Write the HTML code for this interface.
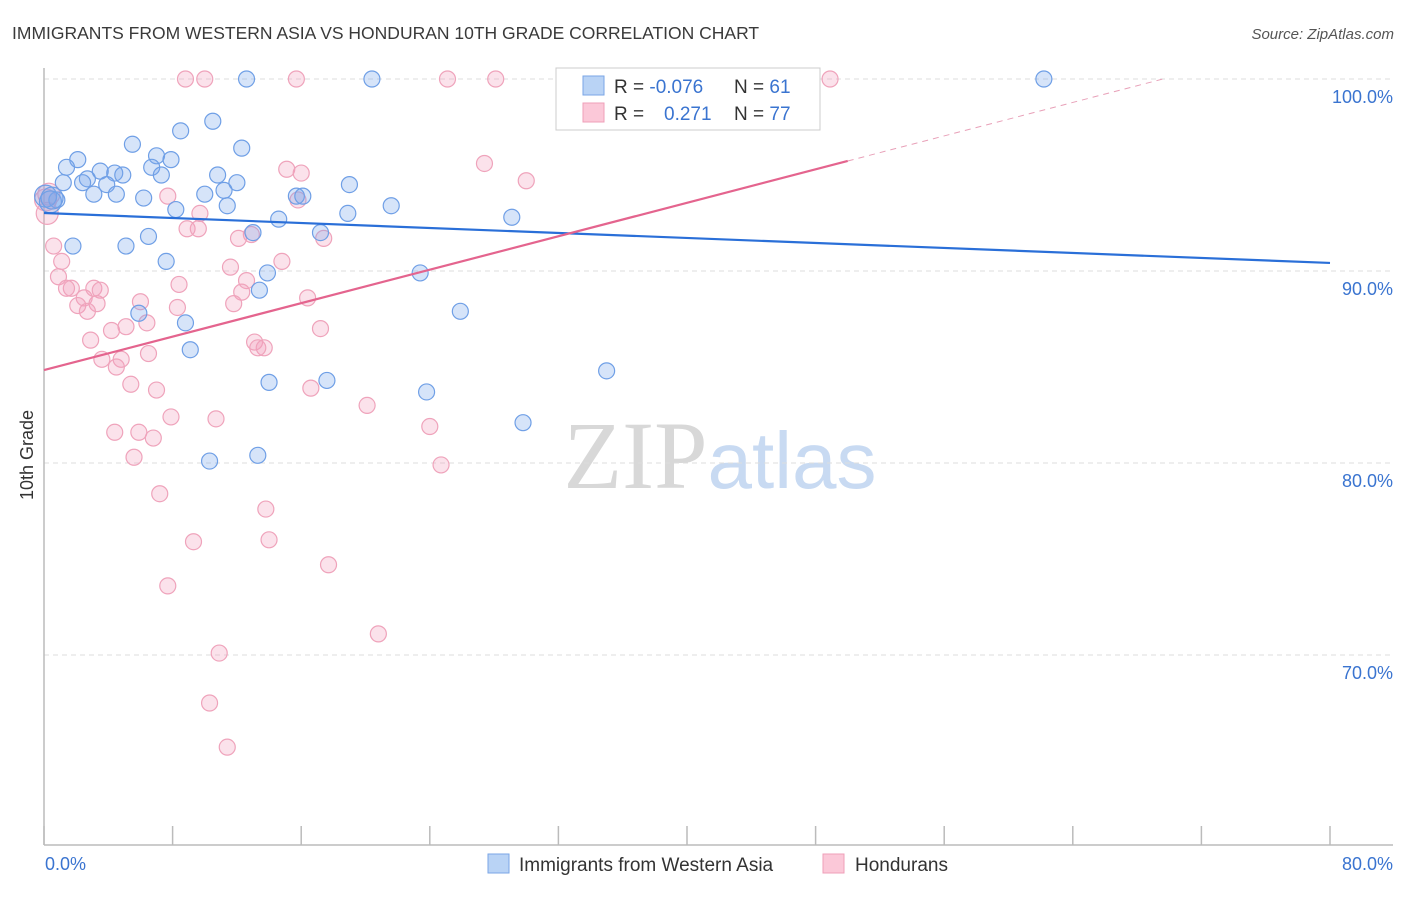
<!DOCTYPE html>
<html><head><meta charset="utf-8"><style>
body{margin:0;background:#fff;font-family:"Liberation Sans",sans-serif;}
svg text{font-family:"Liberation Sans",sans-serif;}
</style></head><body>
<svg id="chart" width="1406" height="892" viewBox="0 0 1406 892" xmlns="http://www.w3.org/2000/svg">
<text x="12" y="39" font-size="17.5" fill="#3a3a3a">IMMIGRANTS FROM WESTERN ASIA VS HONDURAN 10TH GRADE CORRELATION CHART</text>
<text x="1394" y="39" font-size="15" fill="#555" font-style="italic" text-anchor="end">Source: ZipAtlas.com</text>
<text x="720" y="488" font-size="96" text-anchor="middle"><tspan fill="#d8d8d8" font-family="Liberation Serif">ZIP</tspan><tspan fill="#c8daf2" font-size="80">atlas</tspan></text>
<g id="grid"></g>
<g id="axes"></g>
<g id="pts"></g>
<g id="lines"></g>
<text transform="translate(33,455) rotate(-90)" font-size="18" fill="#333" text-anchor="middle">10th Grade</text>
<g>
<rect x="556" y="68" width="264" height="62" fill="#fff" stroke="#ccc"/>
<rect x="583" y="76" width="21" height="19" fill="#b9d3f5" stroke="#7aa6e6"/>
<rect x="583" y="103" width="21" height="19" fill="#fbc8d8" stroke="#ef9fb8"/>
<text x="614" y="93" font-size="19" fill="#333">R = <tspan fill="#3a74d0">-0.076</tspan></text>
<text x="734" y="93" font-size="19" fill="#333">N = <tspan fill="#3a74d0"> 61</tspan></text>
<text x="614" y="120" font-size="19" fill="#333">R = <tspan fill="#3a74d0" x="664">0.271</tspan></text>
<text x="734" y="120" font-size="19" fill="#333">N = <tspan fill="#3a74d0">77</tspan></text>
</g>
<g>
<rect x="488" y="854" width="21" height="19" fill="#b9d3f5" stroke="#7aa6e6"/>
<text x="519" y="871" font-size="19" fill="#333">Immigrants from Western Asia</text>
<rect x="823" y="854" width="21" height="19" fill="#fbc8d8" stroke="#ef9fb8"/>
<text x="855" y="871" font-size="19" fill="#333">Hondurans</text>
</g>
</svg>
<script>
const yTicks=[100,90,80,70];
const yTickLabels=["100.0%","90.0%","80.0%","70.0%"];
const xTicks=[0,8,16,24,32,40,48,56,64,72,80];
const xEndLabels=["0.0%","80.0%"];
const blueX=[12.6,20.4,62.2,10.5,8.5,5.5,12.3,7.0,2.1,7.9,1.4,6.7,3.5,4.4,4.9,7.3,10.8,2.7,1.2,2.4,3.9,12.0,19.0,11.2,3.1,4.5,6.2,10.0,15.7,16.1,0.8,0.1,0.4,11.4,21.6,8.2,18.9,29.1,14.6,13.0,17.2,6.5,5.1,1.8,7.6,13.9,23.4,13.4,5.9,25.9,8.8,9.1,35.0,14.0,17.6,23.8,29.8,10.3,13.3,0.5];
const blueY=[100,100,100,97.8,97.3,96.6,96.4,96.0,95.8,95.8,95.4,95.4,95.2,95.1,95.0,95.0,95.0,94.8,94.6,94.6,94.5,94.6,94.5,94.2,94.0,94.0,93.8,94.0,93.9,93.9,93.7,93.9,93.6,93.4,93.4,93.2,93.0,92.8,92.7,92.0,92.0,91.8,91.3,91.3,90.5,89.9,89.9,89.0,87.8,87.9,87.3,85.9,84.8,84.2,84.3,83.7,82.1,80.1,80.4,93.8];
const pinkX=[8.8,10.0,15.7,25.1,28.1,42.3,48.9,27.4,30.0,15.1,16.0,7.7,15.8,9.7,8.9,9.6,12.1,12.9,17.4,0.6,1.1,11.6,14.8,0.9,12.6,8.4,3.1,1.7,1.4,3.5,2.5,12.3,16.4,6.0,3.3,2.1,2.7,11.8,8.3,6.4,5.1,4.2,17.2,2.9,13.1,13.7,13.3,6.5,4.8,3.6,4.5,5.4,7.0,16.6,20.1,7.9,10.7,24.0,4.4,5.9,6.8,5.6,24.7,7.2,13.8,14.0,9.3,17.7,7.7,20.8,10.9,10.3,11.4,0.1,0.2,0.3];
const pinkY=[100,100,100,100,100,100,100,95.6,94.7,95.3,95.1,93.9,93.7,93.0,92.2,92.2,91.7,91.9,91.7,91.3,90.5,90.2,90.5,89.7,89.5,89.3,89.1,89.1,89.1,89.0,88.6,88.9,88.6,88.4,88.3,88.2,87.9,88.3,88.1,87.3,87.1,86.9,87.0,86.4,86.3,86.0,86.0,85.7,85.4,85.4,85.0,84.1,83.8,83.9,83.0,82.4,82.3,81.9,81.6,81.6,81.3,80.3,79.9,78.4,77.6,76.0,75.9,74.7,73.6,71.1,70.1,67.5,65.2,93.7,93.0,94.0];
const blueTrend=[93.02,90.42];
const pinkTrend=[84.84,0.2178];
const X0=44,X1=1330,YT=79;
function sx(v){return X0+(v/80)*(X1-X0);}
function sy(v){return YT+(100-v)*19.2;}
const NS="http://www.w3.org/2000/svg";
function mk(tag,attrs,parent){const e=document.createElementNS(NS,tag);for(const k in attrs)e.setAttribute(k,attrs[k]);parent.appendChild(e);return e;}
const grid=document.getElementById('grid'),axes=document.getElementById('axes'),pts=document.getElementById('pts'),lines=document.getElementById('lines');
yTicks.forEach((t,i)=>{
 const l=mk('line',{x1:X0,x2:1393,y1:sy(t),y2:sy(t),stroke:'#ddd','stroke-dasharray':'5,4'},grid);
 
 
 const tx=mk('text',{x:1393,y:sy(t)+24,'font-size':18,fill:'#3a74d0','text-anchor':'end'},axes);
 tx.textContent=yTickLabels[i];
 
 
});
let a=mk('line',{x1:X0,x2:X0,y1:68,y2:845,stroke:'#bbb','stroke-width':1.5},axes);


a=mk('line',{x1:X0,x2:1393,y1:845,y2:845,stroke:'#bbb','stroke-width':1.5},axes);


xTicks.forEach(t=>{
 const l=mk('line',{x1:sx(t),x2:sx(t),y1:826,y2:845,stroke:'#bbb','stroke-width':1.5},axes);
 
 
});
let t0=mk('text',{x:45,y:870,'font-size':18,fill:'#3a74d0'},axes);t0.textContent=xEndLabels[0];


let t1=mk('text',{x:1393,y:870,'font-size':18,fill:'#3a74d0','text-anchor':'end'},axes);t1.textContent=xEndLabels[1];


pinkX.forEach((x,i)=>{
 const c=mk('circle',{cx:sx(x),cy:sy(pinkY[i]),r:x<0.5?11:8,fill:'rgba(243,160,190,0.3)',stroke:'#efa3bb','stroke-width':1.2},pts);
 
 
});
blueX.forEach((x,i)=>{
 const c=mk('circle',{cx:sx(x),cy:sy(blueY[i]),r:x<0.6&&i>=30?11:8,fill:'rgba(120,165,235,0.3)',stroke:'#6f9fe6','stroke-width':1.2},pts);
 
 
});
let bl=mk('line',{x1:sx(0),y1:sy(blueTrend[0]),x2:sx(80),y2:sy(blueTrend[1]),stroke:'#2a6fd8','stroke-width':2.2},lines);


const pEnd=50,pMax=(100-pinkTrend[0])/pinkTrend[1];
let pl=mk('line',{x1:sx(0),y1:sy(pinkTrend[0]),x2:sx(pEnd),y2:sy(pinkTrend[0]+pinkTrend[1]*pEnd),stroke:'#e4648e','stroke-width':2.2},lines);


let pd=mk('line',{x1:sx(pEnd),y1:sy(pinkTrend[0]+pinkTrend[1]*pEnd),x2:sx(pMax),y2:sy(100),stroke:'#e8a0b8','stroke-width':1,'stroke-dasharray':'6,5'},lines);


</script>
</body></html>
